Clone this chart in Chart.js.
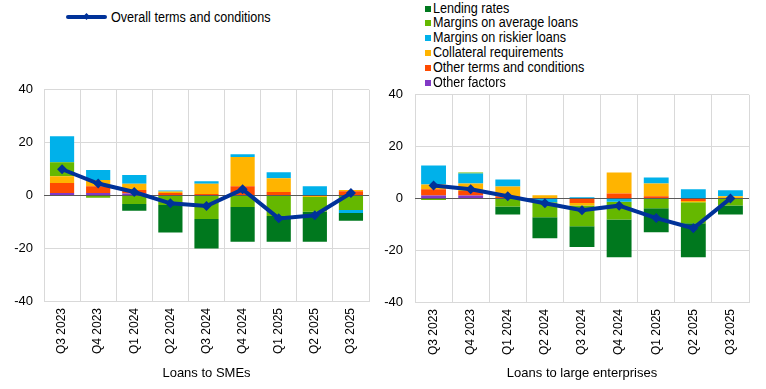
<!DOCTYPE html>
<html lang="en">
<head>
  <meta charset="UTF-8" />
  <title>Credit terms and conditions</title>
  <script src="https://cdn.jsdelivr.net/npm/chart.js"></script>
  <style>
    body {
      margin: 0;
      background: #ffffff;
      font-family: "Liberation Sans", Arial, sans-serif;
      color: #000000;
    }
    #wrap {
      position: relative;
      width: 766px;
      height: 389px;
      overflow: hidden;
    }
    .legend-item {
      position: absolute;
      font-size: 14px;
      line-height: 15px;
      white-space: nowrap;
    }
    .legend-text {
      display: inline-block;
      transform: scaleX(0.9);
      transform-origin: left center;
    }
    .swatch {
      display: inline-block;
      width: 6px;
      height: 6px;
      margin-right: 2px;
      vertical-align: 1px;
    }
    .line-swatch {
      display: inline-block;
      position: relative;
      width: 41px;
      height: 4px;
      margin-right: 4px;
      vertical-align: 3px;
      border-radius: 2px;
    }
    .line-swatch i {
      position: absolute;
      left: 18px;
      top: -1px;
      width: 5px;
      height: 5px;
      transform: rotate(45deg);
    }
    canvas {
      position: absolute;
    }
  </style>
</head>
<body>
  <div id="wrap">
    <canvas id="smeChart" width="383" height="318" style="left:0;top:71px"></canvas>
    <canvas id="largeChart" width="383" height="314" style="left:383px;top:75px"></canvas>
  </div>

  <script>
    const quarters = ['Q3 2023', 'Q4 2023', 'Q1 2024', 'Q2 2024', 'Q3 2024', 'Q4 2024', 'Q1 2025', 'Q2 2025', 'Q3 2025'];

    const seriesNames = ['Lending rates', 'Margins on average loans', 'Margins on riskier loans',
                         'Collateral requirements', 'Other terms and conditions', 'Other factors'];
    const lineName = 'Overall terms and conditions';

    // Loans to SMEs
    const smeOverall      = [9.9, 4.5, 1.3, -3.0, -4.0, 2.3, -8.7, -7.5, 0.9];
    const smeLending      = [0, 0, -2.5, -10.5, -11.2, -13.2, -9.8, -11.4, -2.9];
    const smeMarginsAvg   = [5.3, -0.9, -3.3, -3.6, -8.9, -4.4, -7.8, -5.6, -5.5];
    const smeMarginsRisk  = [9.8, 3.8, 3.3, 0.4, 1.0, 1.1, 2.3, 3.5, -1.2];
    const smeCollateral   = [2.6, 2.3, 2.4, 0.6, 3.9, 11.0, 5.2, -0.6, 0.4];
    const smeOtherTerms   = [3.8, 2.6, 1.3, 0.9, 0.5, 3.5, 1.3, 0, 1.6];
    const smeOtherFactors = [0.9, 0.9, 0.7, 0, 0, 0, 0, 0, 0];

    // Loans to large enterprises
    const largeOverall      = [5.0, 3.5, 0.8, -1.9, -4.6, -2.8, -7.6, -11.5, 0.0];
    const largeLending      = [0, 0, -3.1, -8.1, -8.0, -14.6, -9.3, -13.1, -3.5];
    const largeMarginsAvg   = [-0.6, 0.4, -3.1, -5.8, -8.1, -6.8, -3.8, -8.1, -2.7];
    const largeMarginsRisk  = [7.3, 3.8, 2.7, -1.5, 0.4, -1.3, 2.3, 3.5, 2.3];
    const largeCollateral   = [1.9, 2.9, 3.8, 1.2, -0.9, 8.1, 5.0, -0.5, 0.8];
    const largeOtherTerms   = [2.35, 1.75, 0.8, 0, -1.8, 1.9, 0.8, -1.0, 0];
    const largeOtherFactors = [1.15, 1.15, 0, 0, 0, 0, 0, 0, 0];

    const yTicks = [-40, -20, 0, 20, 40];

    const colors = {
      lending: '#00781e',
      marginsAvg: '#65b800',
      marginsRisk: '#00b1ea',
      collateral: '#ffb400',
      otherTerms: '#ff4b00',
      otherFactors: '#8139c6',
      overall: '#003299'
    };
    const legendColors = [colors.lending, colors.marginsAvg, colors.marginsRisk,
                          colors.collateral, colors.otherTerms, colors.otherFactors];

    const plain = '"Liberation Sans", Arial, sans-serif';

    // legends (plain html, placed like the original)
    const wrap = document.getElementById('wrap');
    const lineItem = document.createElement('div');
    lineItem.className = 'legend-item';
    lineItem.style.left = '66px';
    lineItem.style.top = '10px';
    lineItem.innerHTML = '<span class="line-swatch" style="background:' + colors.overall + '"><i style="background:' +
      colors.overall + '"></i></span><span class="legend-text">' + lineName + '</span>';
    wrap.appendChild(lineItem);

    seriesNames.forEach((name, i) => {
      const item = document.createElement('div');
      item.className = 'legend-item';
      item.style.left = '425px';
      item.style.top = (0.5 + i * 14.9) + 'px';
      item.innerHTML = '<span class="swatch" style="background:' + legendColors[i] + '"></span>' +
        '<span class="legend-text">' + name + '</span>';
      wrap.appendChild(item);
    });

    function barSet(label, data, color) {
      return {
        type: 'bar',
        label: label,
        data: data,
        backgroundColor: color,
        borderWidth: 0,
        stack: 'factors',
        order: 2,
        barPercentage: 1,
        categoryPercentage: 0.67
      };
    }

    function lineSet(data) {
      return {
        type: 'line',
        label: lineName,
        data: data,
        borderColor: colors.overall,
        backgroundColor: colors.overall,
        borderWidth: 4,
        pointStyle: 'rectRot',
        pointRadius: 5,
        pointBorderWidth: 0,
        tension: 0,
        stack: 'overall',
        order: 1
      };
    }

    // zero line goes over the bars but under the blue line
    const zeroLine = {
      id: 'zeroLine',
      beforeDatasetDraw(chart, args) {
        if (args.meta.type !== 'line') return;
        const y = Math.round(chart.scales.y.getPixelForValue(0)) + 0.5;
        const ctx = chart.ctx;
        ctx.save();
        ctx.strokeStyle = '#595959';
        ctx.lineWidth = 1;
        ctx.beginPath();
        ctx.moveTo(chart.chartArea.left, y);
        ctx.lineTo(chart.chartArea.right, y);
        ctx.stroke();
        ctx.restore();
      }
    };

    function makeChart(id, datasets, title, pad, yWidth, xHeight, yPad) {
      return new Chart(document.getElementById(id), {
        data: { labels: quarters, datasets: datasets },
        plugins: [zeroLine],
        options: {
          responsive: false,
          animation: false,
          layout: { padding: pad },
          plugins: {
            legend: { display: false },
            tooltip: { enabled: false }
          },
          scales: {
            x: {
              stacked: true,
              grid: { color: '#d9d9d9', offset: true, drawTicks: false },
              border: { color: '#d9d9d9' },
              ticks: {
                color: '#000000',
                font: { family: plain, size: 12 },
                minRotation: 90,
                maxRotation: 90,
                padding: 7,
                autoSkip: false
              },
              title: {
                display: true,
                text: title,
                color: '#000000',
                font: { family: plain, size: 13 },
                padding: { top: 0, bottom: 8 }
              },
              afterFit(scale) { scale.height = xHeight; }
            },
            y: {
              stacked: true,
              min: yTicks[0],
              max: yTicks[yTicks.length - 1],
              afterBuildTicks(scale) { scale.ticks = yTicks.map(v => ({ value: v })); },
              grid: { color: '#d9d9d9', drawTicks: false },
              border: { color: '#d9d9d9' },
              ticks: {
                color: '#000000',
                font: { family: plain, size: 13 },
                padding: yPad
              },
              afterFit(scale) { scale.width = yWidth; }
            }
          }
        }
      });
    }

    makeChart('smeChart', [
      barSet(seriesNames[5], smeOtherFactors, colors.otherFactors),
      barSet(seriesNames[4], smeOtherTerms, colors.otherTerms),
      barSet(seriesNames[3], smeCollateral, colors.collateral),
      barSet(seriesNames[1], smeMarginsAvg, colors.marginsAvg),
      barSet(seriesNames[2], smeMarginsRisk, colors.marginsRisk),
      barSet(seriesNames[0], smeLending, colors.lending),
      lineSet(smeOverall)
    ], 'Loans to SMEs', { top: 0, right: 14, left: 0, bottom: 0 }, 44, 88, 11);

    makeChart('largeChart', [
      barSet(seriesNames[5], largeOtherFactors, colors.otherFactors),
      barSet(seriesNames[4], largeOtherTerms, colors.otherTerms),
      barSet(seriesNames[3], largeCollateral, colors.collateral),
      barSet(seriesNames[2], largeMarginsRisk, colors.marginsRisk),
      barSet(seriesNames[1], largeMarginsAvg, colors.marginsAvg),
      barSet(seriesNames[0], largeLending, colors.lending),
      lineSet(largeOverall)
    ], 'Loans to large enterprises', { top: 0, right: 17, left: 0, bottom: 0 }, 32, 87, 12);
  </script>
</body>
</html>
